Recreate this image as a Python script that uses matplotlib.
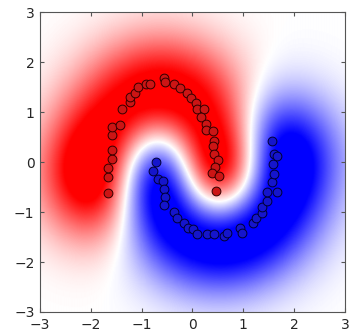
import matplotlib
matplotlib.use("Agg")
import matplotlib.pyplot as plt
import numpy as np

# class +1 (red moon)
red_x = [-1.66, -1.67, -1.67, -1.59, -1.59, -1.59, -1.59, -1.43, -1.38, -1.23, -1.23, -1.14,
         -1.07, -0.92, -0.84, -0.57, -0.55, -0.37, -0.24, -0.10, -0.03, 0.06, 0.09, 0.22,
         0.16, 0.27, 0.27, 0.41, 0.42, 0.41, 0.42, 0.50, 0.45, 0.39, 0.52, 0.47]
red_y = [-0.62, -0.29, -0.12, 0.07, 0.25, 0.55, 0.70, 0.74, 1.07, 1.20, 1.30, 1.39,
         1.50, 1.56, 1.57, 1.68, 1.60, 1.57, 1.49, 1.39, 1.29, 1.19, 1.06, 1.07,
         0.91, 0.76, 0.64, 0.63, 0.43, 0.32, 0.17, 0.04, -0.09, -0.22, -0.28, -0.57]

# class -1 (blue moon)
blue_x = [-0.71, -0.77, -0.68, -0.59, -0.57, -0.55, -0.56, -0.37, -0.30, -0.17, -0.09, 0.01,
          0.09, 0.29, 0.42, 0.61, 0.68, 0.94, 0.97, 1.19, 1.24, 1.37, 1.37, 1.46,
          1.46, 1.66, 1.56, 1.61, 1.58, 1.61, 1.66, 1.56]
blue_y = [0.01, -0.17, -0.34, -0.37, -0.54, -0.70, -0.85, -1.00, -1.11, -1.21, -1.31, -1.34,
          -1.44, -1.44, -1.44, -1.47, -1.41, -1.31, -1.41, -1.21, -1.11, -1.01, -0.89, -0.78,
          -0.59, -0.60, -0.39, -0.24, -0.03, 0.17, 0.12, 0.42]

X = np.column_stack([red_x + blue_x, red_y + blue_y])
t = np.r_[np.ones(len(red_x)), -np.ones(len(blue_x))]

#%%
# GP regression mean as the background score
ell = 0.8
noise = 0.5

def kern(A, B):
    d2 = ((A[:, None, :] - B[None, :, :])**2).sum(-1)
    return np.exp(-d2 / (2 * ell**2))

alpha = np.linalg.solve(kern(X, X) + noise * np.eye(len(X)), t)
g = np.linspace(-3, 3, 300)
GX, GY = np.meshgrid(g, g)
grid = np.column_stack([GX.ravel(), GY.ravel()])
F = (kern(grid, X) @ alpha).reshape(GX.shape)
F = np.clip(1.15 * F, -1, 1)

#%%
fig = plt.figure(figsize=(3.59, 3.34), dpi=100)
ax = fig.add_axes([0.1114, 0.0659, 0.8496, 0.898])

ax.imshow(F, extent=(-3, 3, -3, 3), origin="lower", cmap="bwr", vmin=-1, vmax=1,
          interpolation="bilinear", aspect="auto")
ax.scatter(red_x, red_y, s=40, c="#cc1515", edgecolors="#330000", linewidths=0.7, zorder=3)
ax.scatter(blue_x, blue_y, s=40, c="#1515cc", edgecolors="#000033", linewidths=0.7, zorder=3)

ax.set_xlim(-3, 3)
ax.set_ylim(-3, 3)
ax.set_xticks(range(-3, 4))
ax.set_yticks(range(-3, 4))
ax.tick_params(direction="in", top=True, right=True, length=3, color="#555555",
               labelsize=10, labelcolor="#262626", pad=4)
for s in ax.spines.values():
    s.set_color("#555555")
    s.set_linewidth(0.8)

plt.savefig("out.png", dpi=100)
